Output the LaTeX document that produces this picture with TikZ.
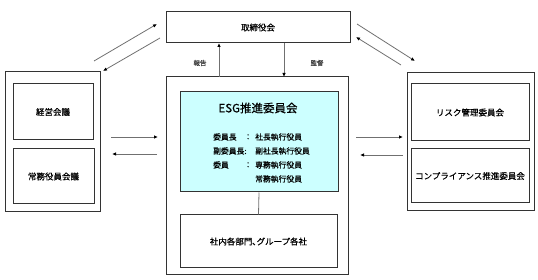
\documentclass[tikz,border=0pt]{standalone}
\usepackage{fontspec}
\setmainfont{Noto Sans CJK JP}[FakeBold=0.6]
\usetikzlibrary{arrows.meta}
\definecolor{boxline}{HTML}{333333}
\definecolor{arrline}{HTML}{707070}
\definecolor{esgfill}{HTML}{CCFFFF}
\begin{document}
\begin{tikzpicture}[x=1pt,y=-1pt,
  box/.style={draw=boxline,line width=1pt,inner sep=0pt,font=\fontsize{8.5}{10}\selectfont},
  arr/.style={draw=arrline,line width=0.8pt,-{Latex[length=4pt,width=3.5pt,black]}},
  lbl/.style={font=\fontsize{6.5}{8}\selectfont,text=black!75,inner sep=0pt},
  itm/.style={font=\fontsize{7.8}{9}\selectfont,inner sep=0pt,anchor=west}]
\useasboundingbox (0,0) rectangle (538,280);
% boxes
\node[box,minimum width=184pt,minimum height=31pt] (top) at (258,27.5) {取締役会};
\node[box,minimum width=95pt,minimum height=140pt] (lo) at (52.5,142) {};
\node[box,minimum width=80pt,minimum height=56pt] (keiei) at (53,112) {経営会議};
\node[box,minimum width=81pt,minimum height=55pt] (jomu) at (53.5,176.5) {常務役員会議};
\node[box,minimum width=182pt,minimum height=198pt] (co) at (257,176) {};
\node[box,fill=esgfill,minimum width=158pt,minimum height=100pt] (esg) at (259,142) {};
\node[box,minimum width=157pt,minimum height=53pt] (bot) at (258.5,241.5) {社内各部門､グループ各社};
\node[box,minimum width=127pt,minimum height=138pt] (ro) at (470.5,142) {};
\node[box,minimum width=118pt,minimum height=57pt] (risk) at (470,112.5) {リスク管理委員会};
\node[box,minimum width=118pt,minimum height=54pt] (comp) at (470,176) {コンプライアンス推進委員会};
% ESG text
\node[font=\fontsize{11.5}{13}\selectfont,inner sep=0pt] (esgt) at (258,108) {ESG推進委員会};
\node[itm] (l1) at (213,137) {委員長};
\node[itm] (c1) at (244,137) {：};
\node[itm] (v1) at (255,137) {社長執行役員};
\node[itm] (l2) at (213,151) {副委員長:};
\node[itm] (v2) at (255,151) {副社長執行役員};
\node[itm] (l3) at (213,165) {委員};
\node[itm] (c3) at (244,165) {：};
\node[itm] (v3) at (255,165) {専務執行役員};
\node[itm] (v4) at (255,179) {常務執行役員};
% connector esg - bottom
\draw[draw=arrline,line width=0.8pt] (esg.south) -- (bot.north);
% report / supervise
\coordinate (rp1) at (219,77);
\coordinate (rp2) at (219,43);
\draw[arr] (rp1) -- (rp2);
\node[lbl] (rpl) at (200,63) {報告};
\coordinate (sv1) at (284,43);
\coordinate (sv2) at (284,77);
\draw[arr] (sv1) -- (sv2);
\node[lbl] (svl) at (317,63) {監督};
% diagonal arrows
\coordinate (d1a) at (94,61); \coordinate (d1b) at (157,24);
\coordinate (d2a) at (160,38); \coordinate (d2b) at (103,71);
\coordinate (d3a) at (357,24); \coordinate (d3b) at (415,61);
\coordinate (d4a) at (401,65); \coordinate (d4b) at (356,37);
\draw[arr] (d1a) -- (d1b);
\draw[arr] (d2a) -- (d2b);
\draw[arr] (d3a) -- (d3b);
\draw[arr] (d4a) -- (d4b);
% horizontal arrows
\coordinate (h1a) at (111,137); \coordinate (h1b) at (158,137);
\coordinate (h2a) at (157,154); \coordinate (h2b) at (112,154);
\coordinate (h3a) at (356,137); \coordinate (h3b) at (403,137);
\coordinate (h4a) at (403,155); \coordinate (h4b) at (360,155);
\draw[arr] (h1a) -- (h1b);
\draw[arr] (h2a) -- (h2b);
\draw[arr] (h3a) -- (h3b);
\draw[arr] (h4a) -- (h4b);
\end{tikzpicture}
\end{document}
